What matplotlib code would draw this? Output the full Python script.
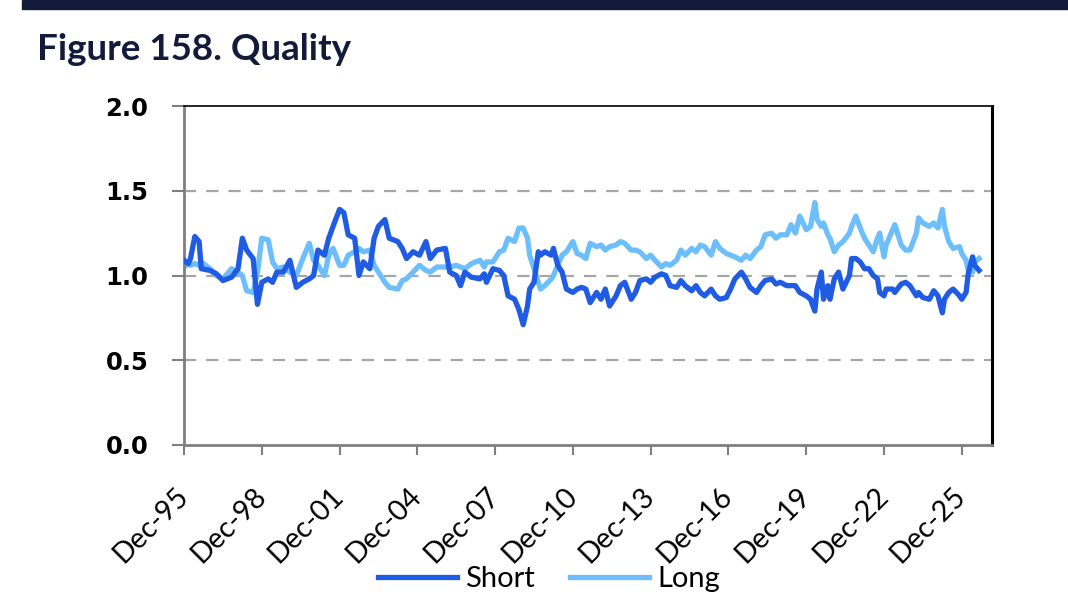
import numpy as np
import matplotlib
matplotlib.use('Agg')
import matplotlib.pyplot as plt
from matplotlib.patches import Rectangle

# months after Dec-95 for each reading
months = [0, 2, 3, 5, 7, 8, 12, 15, 18, 22, 25, 27, 29, 32, 34, 36, 39, 41, 43, 46,
          49, 52, 55, 58, 60, 62, 65, 67, 69, 72, 74, 76, 79, 81, 83, 86, 88, 90, 93, 95,
          99, 101, 103, 106, 109, 112, 114, 117, 121, 123, 126, 128, 130, 133, 137, 139, 140, 143, 146, 148,
          150, 153, 155, 157, 159, 160, 162, 164, 165, 167, 170, 171, 173, 175, 177, 180, 182,
          184, 186, 188, 191, 193, 195, 197, 200, 202, 204, 207, 209, 211, 214, 216, 218, 221, 223, 225, 228,
          230, 232, 235, 237, 239, 241, 244, 246, 248, 251, 253, 255, 258, 260, 262, 265, 267, 269, 272, 274, 276,
          279, 281, 283, 285, 288, 290, 292, 293, 295, 296, 298, 299, 301, 303, 305, 308, 309, 311, 313, 315,
          317, 319, 321, 322, 324, 325, 328, 329, 332, 334, 336, 339, 340, 342, 345, 347, 349, 351, 352, 354,
          356, 359, 360, 362, 363, 365, 366, 368]

short = [1.09, 1.07, 1.10, 1.23, 1.20, 1.04, 1.03, 1.01, 0.97, 0.99, 1.04, 1.22, 1.15, 1.10, 0.83, 0.96, 0.98, 0.96, 1.02, 1.02,
         1.09, 0.93, 0.96, 0.98, 1.00, 1.15, 1.12, 1.22, 1.29, 1.39, 1.37, 1.24, 1.22, 1.00, 1.08, 1.04, 1.22, 1.29, 1.33, 1.22,
         1.20, 1.16, 1.10, 1.14, 1.12, 1.20, 1.10, 1.15, 1.16, 1.02, 1.00, 0.94, 1.02, 0.99, 0.98, 1.01, 0.96, 1.04, 1.03, 1.00,
         0.88, 0.86, 0.80, 0.71, 0.82, 0.92, 0.96, 1.14, 1.12, 1.14, 1.12, 1.16, 1.06, 1.02, 0.92, 0.90, 0.92,
         0.93, 0.92, 0.84, 0.90, 0.86, 0.92, 0.82, 0.88, 0.94, 0.96, 0.86, 0.90, 0.97, 0.98, 0.96, 0.99, 1.01, 1.00, 0.94, 0.93,
         0.97, 0.94, 0.91, 0.94, 0.90, 0.88, 0.92, 0.88, 0.86, 0.87, 0.92, 0.98, 1.02, 0.98, 0.93, 0.90, 0.94, 0.97, 0.98, 0.95, 0.96,
         0.94, 0.94, 0.94, 0.90, 0.88, 0.86, 0.79, 0.92, 1.02, 0.86, 0.94, 0.86, 0.98, 1.02, 0.92, 1.00, 1.10, 1.10, 1.08, 1.04,
         1.04, 1.00, 0.98, 0.90, 0.88, 0.92, 0.92, 0.90, 0.95, 0.96, 0.94, 0.88, 0.90, 0.87, 0.86, 0.91, 0.88, 0.78, 0.86, 0.90,
         0.92, 0.88, 0.86, 0.90, 1.01, 1.11, 1.06, 1.03]

long = [1.05, 1.07, 1.06, 1.07, 1.06, 1.08, 1.04, 1.00, 0.98, 1.04, 1.02, 1.00, 0.91, 0.90, 1.02, 1.22, 1.21, 1.08, 1.04, 1.05,
        1.02, 1.00, 1.10, 1.19, 1.09, 1.06, 1.00, 1.12, 1.16, 1.06, 1.06, 1.12, 1.14, 1.16, 1.14, 1.15, 1.06, 1.02, 0.96, 0.93,
        0.92, 0.97, 0.98, 1.02, 1.06, 1.03, 1.02, 1.05, 1.05, 1.05, 1.06, 1.05, 1.04, 1.07, 1.09, 1.05, 1.08, 1.08, 1.14, 1.15,
        1.22, 1.20, 1.28, 1.28, 1.22, 1.12, 1.04, 0.96, 0.92, 0.94, 0.98, 1.00, 1.06, 1.12, 1.14, 1.20, 1.13,
        1.12, 1.10, 1.19, 1.17, 1.18, 1.15, 1.17, 1.18, 1.20, 1.19, 1.15, 1.15, 1.14, 1.10, 1.12, 1.09, 1.05, 1.07, 1.06, 1.09,
        1.15, 1.12, 1.16, 1.14, 1.18, 1.17, 1.12, 1.20, 1.16, 1.13, 1.12, 1.11, 1.09, 1.12, 1.10, 1.15, 1.17, 1.24, 1.25, 1.22, 1.24,
        1.24, 1.30, 1.25, 1.35, 1.27, 1.29, 1.43, 1.33, 1.29, 1.31, 1.24, 1.22, 1.14, 1.18, 1.20, 1.25, 1.29, 1.35, 1.28, 1.22,
        1.18, 1.14, 1.22, 1.25, 1.11, 1.18, 1.27, 1.30, 1.18, 1.15, 1.15, 1.25, 1.34, 1.31, 1.29, 1.31, 1.28, 1.39, 1.29, 1.20,
        1.16, 1.17, 1.13, 1.09, 1.03, 1.02, 1.08, 1.10]

tick_months = [0, 36, 72, 108, 144, 180, 216, 252, 288, 324, 360]
tick_labels = ['Dec-95', 'Dec-98', 'Dec-01', 'Dec-04', 'Dec-07', 'Dec-10',
               'Dec-13', 'Dec-16', 'Dec-19', 'Dec-22', 'Dec-25']
y_ticks = [0.0, 0.5, 1.0, 1.5, 2.0]

navy = '#131a3a'
dark_blue = '#1f5be3'
light_blue = '#6dbefc'
grey = '#7f7f7f'

fig = plt.figure(figsize=(10.68, 6.12), dpi=100)
W, H = 1068, 612

# top band and title
fig.patches.append(Rectangle((22 / W, 1 - 9 / H), 1, 9 / H, transform=fig.transFigure,
                             color=navy, zorder=0))
fig.text(37 / W, 1 - 49 / H, 'Figure 158. Quality', fontsize=26.5, fontweight='bold',
         family='Lato', color=navy, va='center', ha='left')

ax = fig.add_axes([184 / W, 1 - 445 / H, (992 - 184) / W, (445 - 106) / H])

for g in [0.5, 1.0, 1.5]:
    ax.axhline(g, color='#a6a6a6', lw=1.6, linestyle=(0, (5.5, 4.5)), zorder=1)

l1, = ax.plot(months, short, color=dark_blue, lw=3.8, zorder=3, solid_joinstyle='round')
l2, = ax.plot(months, long, color=light_blue, lw=3.8, zorder=2, solid_joinstyle='round')

ax.set_xlim(0, 374)
ax.set_ylim(0, 2)
ax.set_yticks(y_ticks)
ax.set_yticklabels([f'{v:.1f}' for v in y_ticks], fontsize=17.5, fontweight='bold',
                   family='DejaVu Sans')
ax.set_xticks(tick_months)
ax.set_xticklabels(tick_labels, rotation=45, ha='right', va='center',
                   rotation_mode='anchor', fontsize=20.5, family='Lato')

ax.tick_params(axis='y', length=8.6, width=1.5, color=grey, pad=17)
ax.tick_params(axis='x', length=7, width=1.5, color=grey, pad=27)

ax.spines['left'].set_color(grey)
ax.spines['left'].set_linewidth(2)
ax.spines['bottom'].set_color(grey)
ax.spines['bottom'].set_linewidth(2)
ax.spines['top'].set_color('black')
ax.spines['top'].set_linewidth(1.2)
ax.spines['right'].set_color('black')
ax.spines['right'].set_linewidth(2.2)

fig.legend([l1, l2], ['Short', 'Long'], loc='center', bbox_to_anchor=(549 / W, 1 - 579 / H),
           ncol=2, frameon=False, prop={'family': 'Lato', 'size': 21},
           handlelength=2.7, handletextpad=0.3, columnspacing=1.2)

fig.savefig('out.png', dpi=100)
